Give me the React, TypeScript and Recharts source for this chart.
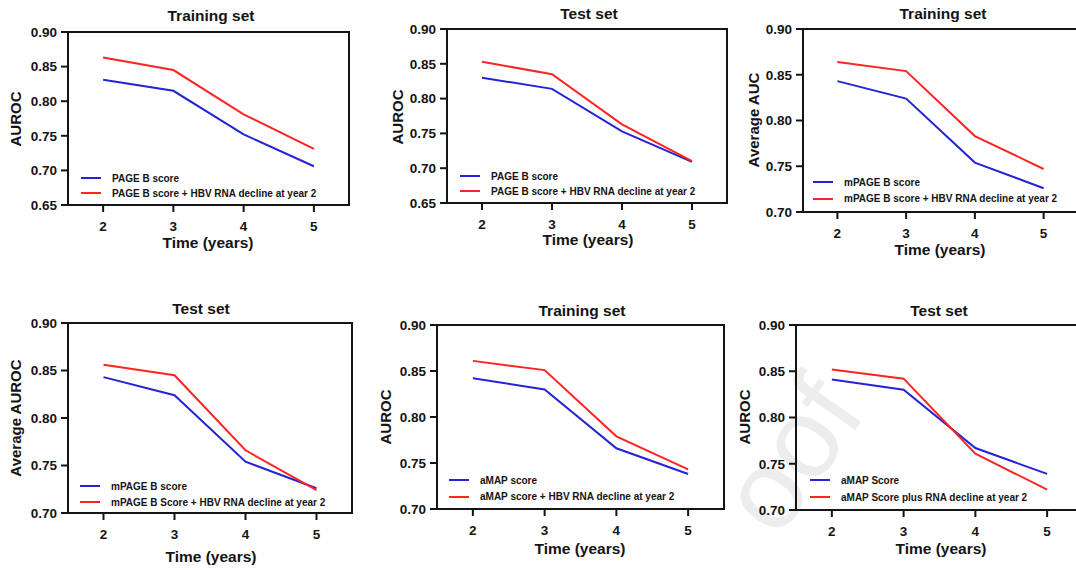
import { LineChart, Line, XAxis, YAxis, ReferenceArea, Legend } from "recharts";

const INK = "#141414";
const BLUE = "#2424d6";
const RED = "#ff2424";
const FONT = '"Liberation Sans", Arial, sans-serif';

const years = [2, 3, 4, 5];
const ticksWide = [0.65, 0.7, 0.75, 0.8, 0.85, 0.9];
const ticksNarrow = [0.7, 0.75, 0.8, 0.85, 0.9];

// PAGE-B, training set
const pageTrainBase = [0.831, 0.815, 0.752, 0.706];
const pageTrainRna = [0.863, 0.845, 0.781, 0.731];
// PAGE-B, test set
const pageTestBase = [0.83, 0.814, 0.753, 0.709];
const pageTestRna = [0.853, 0.835, 0.763, 0.71];
// mPAGE-B, training set
const mpageTrainBase = [0.843, 0.824, 0.754, 0.726];
const mpageTrainRna = [0.864, 0.854, 0.783, 0.747];
// mPAGE-B, test set
const mpageTestBase = [0.843, 0.824, 0.754, 0.726];
const mpageTestRna = [0.856, 0.845, 0.766, 0.724];
// aMAP, training set
const amapTrainBase = [0.842, 0.83, 0.766, 0.738];
const amapTrainRna = [0.861, 0.851, 0.779, 0.743];
// aMAP, test set
const amapTestBase = [0.841, 0.83, 0.767, 0.739];
const amapTestRna = [0.852, 0.842, 0.761, 0.722];

type PanelSpec = {
  title: string;
  yLabel: string;
  names: [string, string];
  base: number[];
  rna: number[];
  yTicks: number[];
  box: [number, number, number, number]; // plot area: left, top, right, bottom
  titleAt: [number, number];
  xLabelAt: [number, number];
  yLabelAt: [number, number];
  legendAt: [number, number, number]; // line start x, first row y, row gap
};

const panels: PanelSpec[] = [
  {
    title: "Training set",
    yLabel: "AUROC",
    names: ["PAGE B score", "PAGE B score + HBV RNA decline at year 2"],
    base: pageTrainBase,
    rna: pageTrainRna,
    yTicks: ticksWide,
    box: [68, 32, 349, 205],
    titleAt: [211, 16],
    xLabelAt: [208, 243],
    yLabelAt: [15, 119],
    legendAt: [81, 178, 15],
  },
  {
    title: "Test set",
    yLabel: "AUROC",
    names: ["PAGE B score", "PAGE B score + HBV RNA decline at year 2"],
    base: pageTestBase,
    rna: pageTestRna,
    yTicks: ticksWide,
    box: [447, 29, 727, 203],
    titleAt: [589, 14],
    xLabelAt: [588, 240],
    yLabelAt: [397, 117],
    legendAt: [460, 176, 15],
  },
  {
    title: "Training set",
    yLabel: "Average AUC",
    names: ["mPAGE B score", "mPAGE B score + HBV RNA decline at year 2"],
    base: mpageTrainBase,
    rna: mpageTrainRna,
    yTicks: ticksNarrow,
    box: [803, 29, 1078, 212],
    titleAt: [943, 14],
    xLabelAt: [940, 250],
    yLabelAt: [753, 120],
    legendAt: [813, 182, 16.5],
  },
  {
    title: "Test set",
    yLabel: "Average AUROC",
    names: ["mPAGE B score", "mPAGE B Score + HBV RNA decline at year 2"],
    base: mpageTestBase,
    rna: mpageTestRna,
    yTicks: ticksNarrow,
    box: [68, 323, 352, 513],
    titleAt: [201, 309],
    xLabelAt: [211, 557],
    yLabelAt: [15, 418],
    legendAt: [80, 486, 16],
  },
  {
    title: "Training set",
    yLabel: "AUROC",
    names: ["aMAP score", "aMAP score + HBV RNA decline at year 2"],
    base: amapTrainBase,
    rna: amapTrainRna,
    yTicks: ticksNarrow,
    box: [437, 325, 724, 509],
    titleAt: [582, 311],
    xLabelAt: [580, 549],
    yLabelAt: [385, 417],
    legendAt: [449, 480, 16.5],
  },
  {
    title: "Test set",
    yLabel: "AUROC",
    names: ["aMAP Score", "aMAP Score plus RNA decline at year 2"],
    base: amapTestBase,
    rna: amapTestRna,
    yTicks: ticksNarrow,
    box: [796, 325, 1083, 510],
    titleAt: [939, 311],
    xLabelAt: [941, 549],
    yLabelAt: [744, 417],
    legendAt: [810, 480, 17],
  },
];

const PAD_L = 66;
const PAD_T = 12;
const PAD_R = 8;
const PAD_B = 40;

const boldText = (size: number) => ({
  fontFamily: FONT,
  fontWeight: 700,
  fontSize: size,
  color: INK,
  whiteSpace: "nowrap" as const,
});

function Panel({ p }: { p: PanelSpec }) {
  const [left, top, right, bottom] = p.box;
  const rows = years.map((year, i) => ({ year, base: p.base[i], rna: p.rna[i] }));
  const yDomain: [number, number] = [p.yTicks[0], p.yTicks[p.yTicks.length - 1]];
  const ox = left - PAD_L;
  const oy = top - PAD_T;
  const [lx, ly, gap] = p.legendAt;

  // keep the legend in series order (base score first)
  const renderLegend = (props: any) => {
    const items = [...(props.payload || [])].sort(
      (a: any, b: any) => p.names.indexOf(a.value) - p.names.indexOf(b.value)
    );
    return (
      <div style={{ ...boldText(10) }}>
        {items.map((item: any, i: number) => (
          <div key={i} style={{ display: "flex", alignItems: "center", height: gap }}>
            <span
              style={{ display: "inline-block", width: 20, height: 2, background: item.color, marginRight: 11 }}
            />
            <span>{item.value}</span>
          </div>
        ))}
      </div>
    );
  };

  return (
    <>
      <div style={{ position: "absolute", left: ox, top: oy }}>
        <LineChart
          width={right - left + PAD_L + PAD_R}
          height={bottom - top + PAD_T + PAD_B}
          data={rows}
          margin={{ top: PAD_T, right: PAD_R, bottom: 0, left: 0 }}
        >
          <XAxis
            dataKey="year"
            type="number"
            domain={[1.5, 5.5]}
            ticks={years}
            height={PAD_B}
            axisLine={{ stroke: INK, strokeWidth: 2 }}
            tickLine={{ stroke: INK, strokeWidth: 2 }}
            tickSize={7}
            tickMargin={9}
            tick={{ fill: INK, fontSize: 13.5, fontWeight: 700, fontFamily: FONT }}
          />
          <YAxis
            type="number"
            domain={yDomain}
            ticks={p.yTicks}
            width={PAD_L}
            allowDataOverflow
            axisLine={{ stroke: INK, strokeWidth: 2 }}
            tickLine={{ stroke: INK, strokeWidth: 2 }}
            tickSize={7}
            tickMargin={4}
            tickFormatter={(v: number) => v.toFixed(2)}
            tick={{ fill: INK, fontSize: 13.5, fontWeight: 700, fontFamily: FONT }}
          />
          <ReferenceArea
            x1={1.5}
            x2={5.5}
            y1={yDomain[0]}
            y2={yDomain[1]}
            fill="none"
            fillOpacity={0}
            stroke={INK}
            strokeWidth={2}
          />
          <Line dataKey="base" name={p.names[0]} stroke={BLUE} strokeWidth={2} dot={false} isAnimationActive={false} />
          <Line dataKey="rna" name={p.names[1]} stroke={RED} strokeWidth={2} dot={false} isAnimationActive={false} />
          <Legend
            layout="vertical"
            align="center"
            verticalAlign="middle"
            content={renderLegend}
            wrapperStyle={{ left: lx - ox, top: ly - oy - gap / 2, width: "auto", height: "auto" }}
          />
        </LineChart>
      </div>
      <div
        style={{
          ...boldText(15.5),
          position: "absolute",
          left: p.titleAt[0],
          top: p.titleAt[1],
          transform: "translate(-50%, -50%)",
        }}
      >
        {p.title}
      </div>
      <div
        style={{
          ...boldText(15.5),
          position: "absolute",
          left: p.xLabelAt[0],
          top: p.xLabelAt[1],
          transform: "translate(-50%, -50%)",
        }}
      >
        Time (years)
      </div>
      <div
        style={{
          ...boldText(15),
          position: "absolute",
          left: p.yLabelAt[0],
          top: p.yLabelAt[1],
          transform: "translate(-50%, -50%) rotate(-90deg)",
        }}
      >
        {p.yLabel}
      </div>
    </>
  );
}

export default function App() {
  return (
    <div
      style={{
        position: "fixed",
        left: 0,
        top: 0,
        width: 1076,
        height: 570,
        overflow: "hidden",
        background: "#fff",
      }}
    >
      {/* faint diagonal pre-proof watermark behind the panels */}
      <svg width={1076} height={570} style={{ position: "absolute", left: 0, top: 0 }}>
        <text
          x={778}
          y={540}
          transform="rotate(-55 778 540)"
          fontFamily={FONT}
          fontSize={112}
          fill="#ededed"
        >
          oof
        </text>
      </svg>
      {panels.map((p, i) => (
        <Panel key={i} p={p} />
      ))}
    </div>
  );
}
